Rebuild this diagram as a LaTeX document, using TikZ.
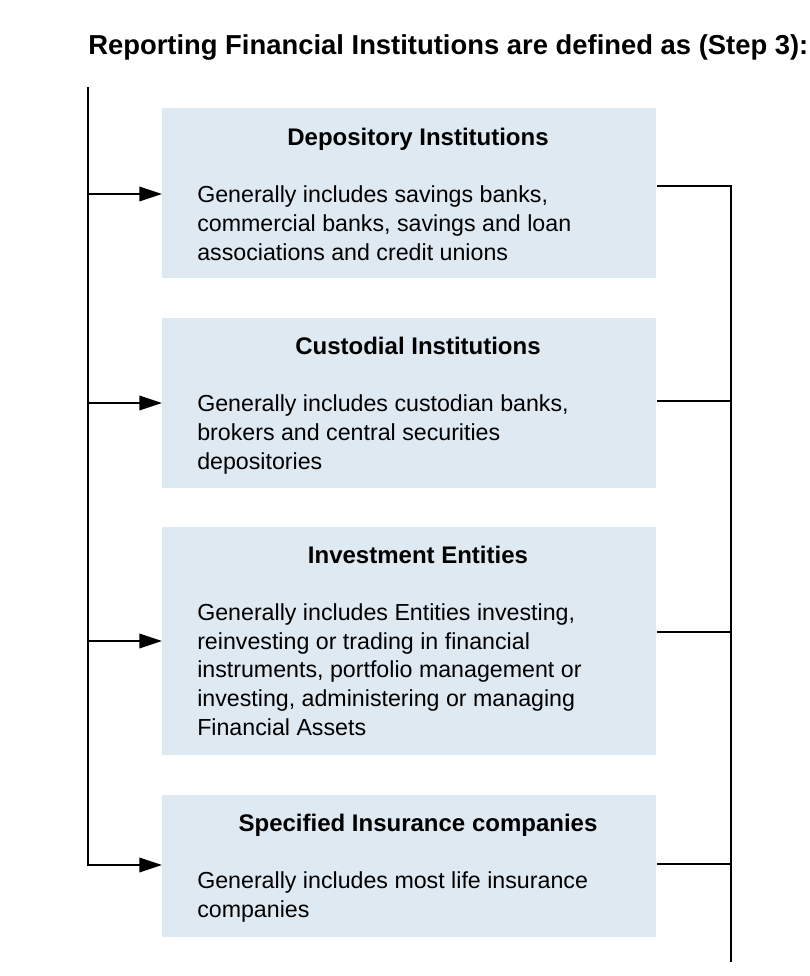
\documentclass[tikz,border=0pt]{standalone}
\usepackage{fontspec}
\setmainfont{Liberation Sans}
\usetikzlibrary{arrows.meta}
\definecolor{boxfill}{RGB}{223,233,242}
\begin{document}
\begin{tikzpicture}[x=0.75pt,y=-0.75pt,
  box/.style={fill=boxfill, draw=none, anchor=north west, inner sep=0pt, minimum width=370.5pt},
  btitle/.style={font=\fontsize{18pt}{21pt}\selectfont\bfseries, anchor=base, inner sep=0pt},
  btext/.style={font=\fontsize{17.4pt}{21.4pt}\selectfont, anchor=base west, align=left, inner sep=0pt},
  conn/.style={line width=1.1pt, black},
  arr/.style={conn, -{Triangle[length=17pt,width=11pt]}}]
\useasboundingbox (0,0) rectangle (810,976);
\node[font=\fontsize{20.55pt}{24pt}\selectfont\bfseries, anchor=base west, inner sep=0pt] (title) at (88,54) {Reporting Financial Institutions are defined as (Step 3):};

\node[box, minimum height=127.5pt] (b1) at (162,108) {};
\node[box, minimum height=127.5pt] (b2) at (162,318) {};
\node[box, minimum height=171pt] (b3) at (162,527) {};
\node[box, minimum height=106.5pt] (b4) at (162,795) {};

\node[btitle] (t1) at (418,145) {Depository Institutions};
\node[btext] (x1) at (197,260) {Generally includes savings banks,\\commercial banks, savings and loan\\associations and credit unions};
\node[btitle] (t2) at (418,354) {Custodial Institutions};
\node[btext] (x2) at (197,469) {Generally includes custodian banks,\\brokers and central securities\\depositories};
\node[btitle] (t3) at (418,563) {Investment Entities};
\node[btext] (x3) at (197,735) {Generally includes Entities investing,\\reinvesting or trading in financial\\instruments, portfolio management or\\investing, administering or managing\\Financial Assets};
\node[btitle] (t4) at (418,831) {Specified Insurance companies};
\node[btext] (x4) at (197,917) {Generally includes most life insurance\\companies};

\coordinate (ltop) at (88,87);
\coordinate (l1) at (88,194);
\coordinate (l2) at (88,403);
\coordinate (l3) at (88,641);
\coordinate (l4) at (88,865);
\coordinate (r1) at (731,186);
\coordinate (r2) at (731,401);
\coordinate (r3) at (731,632);
\coordinate (r4) at (731,864);
\coordinate (rbot) at (731,962);

\draw[arr] (ltop) -- (l4) -- (l4 -| b4.west);
\draw[arr] (l1) -- (l1 -| b1.west);
\draw[arr] (l2) -- (l2 -| b2.west);
\draw[arr] (l3) -- (l3 -| b3.west);

\draw[conn] (b1.east |- r1) -- (r1) -- (rbot);
\draw[conn] (b2.east |- r2) -- (r2);
\draw[conn] (b3.east |- r3) -- (r3);
\draw[conn] (b4.east |- r4) -- (r4);
\end{tikzpicture}
\end{document}
